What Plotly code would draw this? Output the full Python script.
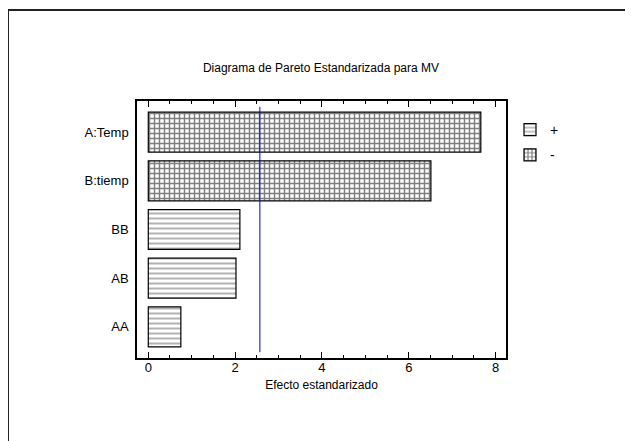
import plotly.graph_objects as go

# Data
categories = ["A:Temp", "B:tiemp", "BB", "AB", "AA"]
effects = [7.66, 6.51, 2.11, 2.02, 0.75]
signs = ["-", "-", "+", "+", "+"]
critical_value = 2.57

W, H = 633, 441
OFF = 8  # page body margin
L, T = 137 - OFF, 101 - OFF
R, B = W - (506 - OFF), H - (358 - OFF)
pw, ph = W - L - R, H - T - B

FONT = "Liberation Sans, Arial, sans-serif"

fig = go.Figure()

pat = {
    "+": dict(shape="-", fgcolor="#666666", bgcolor="white", size=5, solidity=0.4, fillmode="overlay"),
    "-": dict(shape="+", fgcolor="#000000", bgcolor="white", size=5, solidity=0.5, fillmode="overlay"),
}
for s in ["+", "-"]:
    xs = [e for e, g in zip(effects, signs) if g == s]
    ys = [c for c, g in zip(categories, signs) if g == s]
    fig.add_trace(go.Bar(
        x=xs, y=ys, orientation="h", name=s, width=0.82, legendgroup=s,
        marker=dict(color="white", line=dict(color="black", width=1.2), pattern=pat[s]),
        hoverinfo="x+y",
    ))

fig.add_shape(type="line", xref="x", yref="y", x0=critical_value, x1=critical_value,
              y0=-0.52, y1=4.52, line=dict(color="#0000ee", width=1))

# outer frame
fig.add_shape(type="rect", xref="paper", yref="paper",
              x0=(0 - L) / pw, x1=(W + 10 - L) / pw,
              y0=(H - B - (H + 10)) / ph, y1=(H - B - 2) / ph,
              line=dict(color="#222222", width=2), layer="below")

fig.update_layout(
    width=W, height=H,
    margin=dict(l=L, r=R, t=T, b=B, autoexpand=False),
    paper_bgcolor="white", plot_bgcolor="white",
    font=dict(family=FONT, size=12, color="black"),
    barmode="overlay",
    showlegend=True,
    legend=dict(x=(510 - OFF - L) / pw, y=(H - B - (114 - OFF)) / ph, xanchor="left", yanchor="top",
                bgcolor="rgba(0,0,0,0)", font=dict(size=14), tracegroupgap=4,
                traceorder="grouped"),
    title=dict(text="Diagrama de Pareto Estandarizada para MV", x=(321 - OFF - L) / pw, xref="paper",
               y=1 - (68 - OFF) / H, yref="container", xanchor="center", yanchor="middle",
               font=dict(family=FONT, size=12, color="black")),
    xaxis=dict(range=[-0.26, 8.24], tickvals=[0, 2, 4, 6, 8], ticks="inside", ticklen=6,
               tickcolor="black", showline=True, linecolor="black", linewidth=1.5,
               mirror="allticks", showgrid=False, zeroline=False,
               minor=dict(dtick=0.5, tick0=0, ticks="inside", ticklen=3, tickcolor="black", showgrid=False),
               tickfont=dict(size=13), ticklabelstandoff=-3,
               title=dict(text="Efecto estandarizado", standoff=6, font=dict(size=12))),
    yaxis=dict(type="category", categoryarray=categories, range=[4.64, -0.64],
               showline=True, linecolor="black", linewidth=1.5, mirror=True,
               ticks="", showgrid=False, zeroline=False, tickfont=dict(size=13), ticklabelstandoff=4),
)

fig.write_html("out.html")
